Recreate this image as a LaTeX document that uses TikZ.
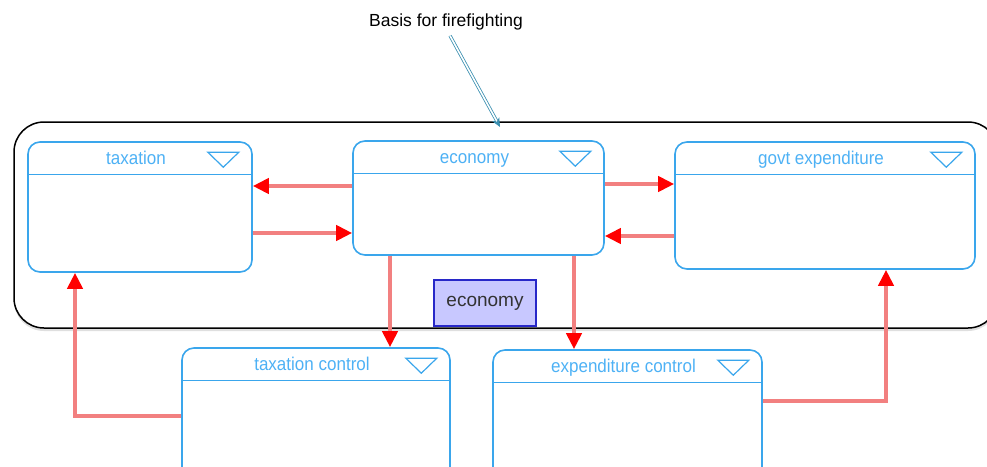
\documentclass[tikz,border=0pt]{standalone}
\usepackage{fontspec}
\setmainfont{Liberation Sans}
\newfontfamily\boxfont[FakeStretch=0.92]{Liberation Sans}
\usetikzlibrary{arrows.meta}
\usetikzlibrary{calc}
\usetikzlibrary{shadows}
\definecolor{boxblue}{RGB}{58,166,236}
\definecolor{titleblue}{RGB}{77,177,245}
\definecolor{flowred}{RGB}{242,128,128}
\definecolor{notecol}{RGB}{58,143,176}
\definecolor{btnfill}{RGB}{200,200,255}
\definecolor{btnline}{RGB}{40,40,200}
\begin{document}
\begin{tikzpicture}[x=1pt,y=-1pt,
    box/.style={draw=boxblue,line width=1.6pt,rounded corners=12pt,inner sep=0pt},
    boxtitle/.style={text=titleblue,inner sep=0pt,text height=13pt,text depth=4pt,
      font=\boxfont\fontsize{18.5}{20}\selectfont},
    flow/.style={draw=flowred,line width=4.5pt,
      -{Triangle[color=red,length=16pt,width=15pt]}},
    button/.style={draw=btnline,fill=btnfill,line width=1.8pt,minimum width=102pt,
      minimum height=46pt,text=black!80,font=\fontsize{19}{21}\selectfont}]
      \useasboundingbox (0,0) rectangle (987,466);
      \clip (0,0) rectangle (987,466);

      % outer frame
      \draw[black,fill=white,line width=1.5pt,rounded corners=30pt,
        drop shadow={shadow xshift=0pt,shadow yshift=-3pt,opacity=.25}]
        (14,122) rectangle (998,328);

      % modules
      \node[box,minimum width=224pt,minimum height=130pt] (tax) at (140,207) {};
      \node[box,minimum width=251pt,minimum height=114pt] (econ) at (478.5,198) {};
      \node[box,minimum width=300pt,minimum height=127pt] (govt) at (825,205.5) {};
      \node[box,minimum width=268pt,minimum height=152pt] (taxc) at (316,424) {};
      \node[box,minimum width=269pt,minimum height=150pt] (expc) at (627.5,425) {};

      \foreach \b in {tax,econ,govt,taxc,expc} {
        \draw[boxblue,line width=1.4pt] ($(\b.north west)+(0,33)$) -- ($(\b.north east)+(0,33)$);
        \draw[boxblue,line width=1.2pt] ($(\b.north east)+(-45,11)$) -- ++(31,0) -- ++(-15.5,15) -- cycle;
      }

      \node[boxtitle] (taxt) at ($(tax.north)+(-4,19)$) {taxation};
      \node[boxtitle] (econt) at ($(econ.north)+(-4,19)$) {economy};
      \node[boxtitle] (govtt) at ($(govt.north)+(-4,19)$) {govt expenditure};
      \node[boxtitle] (taxct) at ($(taxc.north)+(-4,19)$) {taxation control};
      \node[boxtitle] (expct) at ($(expc.north)+(-4,19)$) {expenditure control};

      \node[button] (btn) at (485,303) {economy};

      % flows
      \path (econ.west |- 0,186) edge[flow] (tax.east |- 0,186);
      \path (tax.east |- 0,233) edge[flow] (econ.west |- 0,233);
      \path (econ.east |- 0,184) edge[flow] (govt.west |- 0,184);
      \path (govt.west |- 0,236) edge[flow] (econ.east |- 0,236);
      \path (econ.south -| 390,0) edge[flow] (taxc.north -| 390,0);
      \path (econ.south -| 574,0) edge[flow] (expc.north -| 574,0);
      \draw[flow] (taxc.west |- 0,416) -| (tax.south -| 75,0);
      \draw[flow] (expc.east |- 0,401) -| (govt.south -| 886,0);

      % note
      \node[font=\fontsize{17.5}{20}\selectfont] (note) at (446,22) {Basis for firefighting};
      \coordinate (frametop) at (500,127);
      \draw[notecol,line width=0.8pt,double=white,double distance=1.6pt,
        -{Stealth[length=9pt,width=8pt]}] ($(note.south)+(4,2)$) -- (frametop);
    \end{tikzpicture}
\end{document}
